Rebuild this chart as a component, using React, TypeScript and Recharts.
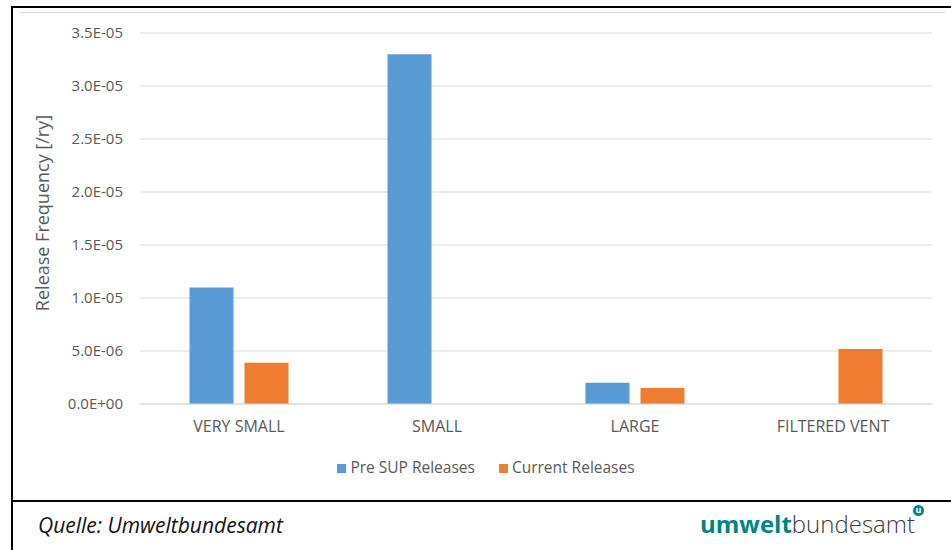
import React from "react";
import {
  BarChart,
  Bar,
  XAxis,
  YAxis,
  CartesianGrid,
  Legend,
} from "recharts";

const categories = ["VERY SMALL", "SMALL", "LARGE", "FILTERED VENT"];
const preSupReleases = [1.1e-5, 3.3e-5, 2.0e-6, 0];
const currentReleases = [3.9e-6, 0, 1.5e-6, 5.2e-6];
const yTicks = [0, 5e-6, 1e-5, 1.5e-5, 2e-5, 2.5e-5, 3e-5, 3.5e-5];
const seriesOrder = ["Pre SUP Releases", "Current Releases"];

const data = categories.map((name, i) => ({
  name,
  pre: preSupReleases[i],
  current: currentReleases[i],
}));

const TEXT = "#595959";
const FONT = "'Open Sans', 'Noto Sans', sans-serif";

// Excel-style scientific label, e.g. 3.5E-05
function sci(v: number) {
  const [m, e] = v.toExponential(1).split("e");
  const sign = e[0];
  const digits = e.slice(1).padStart(2, "0");
  return `${m}E${sign}${digits}`;
}

export default function App() {
  return (
    <div
      style={{
        position: "absolute",
        left: 0,
        top: 0,
        width: 951,
        height: 550,
        background: "#fff",
        fontFamily: FONT,
        overflow: "hidden",
      }}
    >
      {/* frame */}
      <div style={{ position: "absolute", left: 11, top: 6, width: 940, height: 2, background: "#000" }} />
      <div style={{ position: "absolute", left: 11, top: 6, width: 2, height: 544, background: "#000" }} />
      <div style={{ position: "absolute", left: 11, top: 500, width: 940, height: 2, background: "#000" }} />
      <div style={{ position: "absolute", left: 20, top: 12, width: 925, height: 1, background: "#d9d9d9" }} />

      <div style={{ position: "absolute", left: 0, top: 0 }}>
        <BarChart
          width={951}
          height={500}
          data={data}
          margin={{ top: 33, right: 19, left: 0, bottom: 66 }}
          barGap={11}
          barCategoryGap="25%"
        >
          <CartesianGrid vertical={false} stroke="#d9d9d9" />
          <XAxis
            dataKey="name"
            height={30}
            axisLine={{ stroke: "#d9d9d9" }}
            tickLine={false}
            tickSize={0}
            tickMargin={17}
            tick={{ fill: TEXT, fontSize: 16, fontFamily: FONT }}
          />
          <YAxis
            width={140}
            domain={[0, 3.5e-5]}
            ticks={yTicks}
            tickFormatter={sci}
            axisLine={false}
            tickLine={false}
            tickSize={0}
            tickMargin={17}
            tick={{ fill: TEXT, fontSize: 15, fontFamily: FONT }}
          />
          <Legend
            verticalAlign="middle"
            align="center"
            iconType="square"
            iconSize={9}
            itemSorter={(item: any) => seriesOrder.indexOf(item.value)}
            wrapperStyle={{ top: 456, left: 32, width: 932, fontFamily: FONT, fontSize: 15.5 }}
            formatter={(value) => (
              <span style={{ color: TEXT, marginRight: 14 }}>{value}</span>
            )}
          />
          <Bar dataKey="pre" name="Pre SUP Releases" fill="#5b9bd5" isAnimationActive={false} />
          <Bar dataKey="current" name="Current Releases" fill="#ed7d31" isAnimationActive={false} />
        </BarChart>
      </div>

      {/* y axis title */}
      <div
        style={{
          position: "absolute",
          left: 42,
          top: 213,
          transform: "translate(-50%, -50%) rotate(-90deg)",
          whiteSpace: "nowrap",
          color: TEXT,
          fontSize: 18,
        }}
      >
        Release Frequency [/ry]
      </div>

      {/* footer */}
      <div
        style={{
          position: "absolute",
          left: 38,
          top: 511,
          fontStyle: "italic",
          fontSize: 21,
          color: "#111",
        }}
      >
        Quelle: Umweltbundesamt
      </div>
      <div
        style={{
          position: "absolute",
          left: 700,
          top: 507,
          fontSize: 24,
          color: "#3a3a3a",
          whiteSpace: "nowrap",
        }}
      >
        <span style={{ color: "#00857f", fontWeight: 700 }}>umwelt</span>
        <span style={{ fontWeight: 300 }}>bundesamt</span>
      </div>
      <div
        style={{
          position: "absolute",
          left: 913,
          top: 505,
          width: 11,
          height: 11,
          borderRadius: "50%",
          background: "#00857f",
          color: "#fff",
          fontSize: 9,
          fontWeight: 700,
          lineHeight: "10px",
          textAlign: "center",
        }}
      >
        u
      </div>
    </div>
  );
}
